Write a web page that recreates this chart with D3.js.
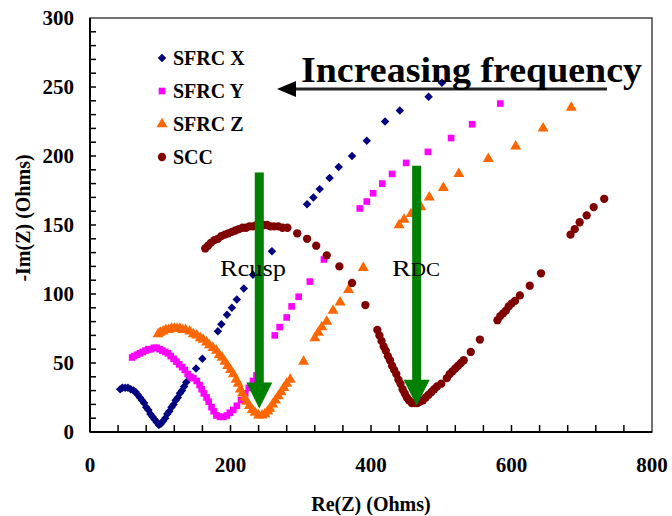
<!DOCTYPE html>
<html>
<head>
<meta charset="utf-8">
<script src="https://cdn.jsdelivr.net/npm/d3@7"></script>
<style>
  body { margin: 0; background: #fff; }
  text { font-family: "Liberation Serif", "Times New Roman", serif; }
</style>
</head>
<body>
<script>
const width = 672;
const height = 516;

const margin = { top: 18, left: 90, right: 20, bottom: 84 };
const w = width - margin.left - margin.right;
const h = height - margin.top - margin.bottom;

// data: [Re(Z), -Im(Z)]
const sfrcX = [
  [43,31],[46,32],[50,32],[54,32],[58,31],[62,30],[65,29],[68,27],[71,25],[74,23],
  [77,21],[80,18],[83,16],[86,13],[89,11],[92,9],[95,7],[98,5],[101,6],[104,8],
  [107,10],[110,13],[113,15],[116,18],[119,20],[122,23],[125,25],[128,28],[131,30],
  [134,33],[137,36],[142,40],[151,46],[160,53],[182,73],[187,78],[195,85],[202,90],
  [209,96],[219,104],[232,114],[259,131],[309,165],[318,170],[327,176],[341,184],
  [354,192],[373,200],[394,211],[420,225],[441,233],[482,243],[501,253]
];
const sfrcY = [
  [60,54],[63,55],[67,56],[71,57],[75,58],[79,59],[83,60],[87,60],[91,61],[95,61],
  [99,60],[103,59],[107,58],[111,57],[115,55],[119,53],[123,51],[127,49],[131,47],
  [135,45],[139,42],[143,40],[147,39],[152,37],[156,34],[159,31],[162,28],[166,25],
  [169,22],[173,18],[176,15],[180,12],[185,11],[190,11],[195,12],[199,14],[204,16],
  [209,19],[215,23],[221,28],[226,32],[232,37],[237,41],[241,45],[263,70],[270,76],
  [280,83],[287,91],[297,98],[313,109],[333,125],[384,162],[394,167],[403,173],
  [416,180],[430,187],[450,195],[481,203],[514,213],[544,223],[584,238]
];
const sfrcZ = [
  [97,71],[100,72],[104,73],[108,74],[112,74],[116,75],[120,75],[124,75],[128,75],
  [132,74],[136,74],[142,73],[147,71],[152,70],[157,68],[161,67],[166,65],[170,63],
  [175,61],[180,59],[184,56],[188,54],[192,51],[196,48],[200,45],[204,42],[208,38],
  [211,35],[214,31],[217,28],[220,25],[223,22],[227,19],[231,16],[235,14],[240,12],
  [245,12],[249,13],[253,15],[256,17],[260,20],[264,23],[268,26],[272,29],[276,32],
  [280,35],[285,38],[304,51],[320,68],[325,72],[330,76],[337,80],[346,88],[356,94],
  [368,103],[389,119],[440,150],[447,154],[457,158],[471,163],[483,170],[503,177],
  [525,187],[567,198],[606,207],[645,220],[685,235]
];
const scc = [
  [164,133],[168,135],[172,137],[177,139],[182,140],[187,142],[192,143],[197,144],
  [202,145],[207,146],[212,147],[217,148],[222,148],[227,149],[232,149],[237,150],
  [242,150],[247,150],[252,150],[257,149],[262,149],[268,149],[274,148],[281,148],
  [295,144],[309,140],[322,135],[337,128],[355,120],[373,108],[392,92],[409,74],
  [412,70],[415,66],[418,62],[421,59],[424,55],[427,52],[430,48],[433,45],[436,42],
  [439,38],[442,35],[445,31],[448,28],[451,25],[454,23],[458,21],[462,21],[466,21],
  [470,22],[474,23],[478,25],[482,27],[486,29],[490,31],[494,33],[500,35],[508,39],
  [512,42],[516,44],[520,46],[524,48],[528,50],[532,52],[542,58],[555,67],[580,81],
  [584,84],[588,86],[592,88],[596,91],[600,93],[605,95],[612,99],[626,106],[642,115],
  [684,143],[690,147],[697,152],[707,157],[717,163],[732,169]
];

const seriesNames = ["SFRC X", "SFRC Y", "SFRC Z", "SCC"];
const xTickLabels = [0, 200, 400, 600, 800];
const yTickLabels = [0, 50, 100, 150, 200, 250, 300];
// green arrows: Re(Z) position, top and tip in -Im(Z)
const arrows = [
  { x: 241, top: 188, tip: 17 },
  { x: 465, top: 193, tip: 19 }
];

const series = [
  { name: seriesNames[0], data: sfrcX, color: "#000080", shape: "diamond" },
  { name: seriesNames[1], data: sfrcY, color: "#FF00FF", shape: "square" },
  { name: seriesNames[2], data: sfrcZ, color: "#FF6600", shape: "triangle" },
  { name: seriesNames[3], data: scc, color: "#800000", shape: "circle" }
];

const svg = d3.select("body").append("svg")
  .attr("width", width)
  .attr("height", height);

const g = svg.append("g")
  .attr("transform", `translate(${margin.left}, ${margin.top})`);

const x = d3.scaleLinear().domain([0, 800]).range([0, w]);
const y = d3.scaleLinear().domain([0, 300]).range([h, 0]);

// frame
g.append("rect")
  .attr("width", w).attr("height", h)
  .attr("fill", "none")
  .attr("stroke", "#444").attr("stroke-width", 1.5);

// minor ticks pointing into the plot
g.append("g").selectAll("line")
  .data(d3.range(10, 300, 10))
  .enter().append("line")
  .attr("x1", 0).attr("x2", 6)
  .attr("y1", (d) => y(d)).attr("y2", (d) => y(d))
  .attr("stroke", "#000").attr("stroke-width", 1.5);

g.append("g").selectAll("line")
  .data(d3.range(40, 800, 40))
  .enter().append("line")
  .attr("x1", (d) => x(d)).attr("x2", (d) => x(d))
  .attr("y1", h).attr("y2", h - 7)
  .attr("stroke", "#000").attr("stroke-width", 1.5);

g.append("line").attr("x1", 0).attr("x2", 0).attr("y1", 0).attr("y2", h)
  .attr("stroke", "#000").attr("stroke-width", 2);
g.append("line").attr("x1", 0).attr("x2", w).attr("y1", h).attr("y2", h)
  .attr("stroke", "#000").attr("stroke-width", 2);

// tick labels
g.append("g").selectAll("text")
  .data(yTickLabels)
  .enter().append("text")
  .attr("x", -16).attr("y", (d) => y(d) + 7)
  .attr("text-anchor", "end")
  .style("font-size", "21px").style("font-weight", "bold")
  .text((d) => d);

g.append("g").selectAll("text")
  .data(xTickLabels)
  .enter().append("text")
  .attr("x", (d) => x(d)).attr("y", h + 40)
  .attr("text-anchor", "middle")
  .style("font-size", "21px").style("font-weight", "bold")
  .text((d) => d);

// axis titles
svg.append("text")
  .attr("x", 371).attr("y", 511)
  .attr("text-anchor", "middle")
  .style("font-size", "20px").style("font-weight", "bold")
  .text("Re(Z) (Ohms)");

svg.append("text")
  .attr("transform", "translate(30, 218) rotate(-90)")
  .attr("text-anchor", "middle")
  .style("font-size", "20px").style("font-weight", "bold")
  .text("-Im(Z) (Ohms)");

const symbolFor = {
  diamond: d3.symbol().type(d3.symbolSquare).size(36),
  square: d3.symbol().type(d3.symbolSquare).size(44),
  triangle: d3.symbol().type(d3.symbolTriangle).size(52),
  circle: d3.symbol().type(d3.symbolCircle).size(54)
};
const rot = (s) => (s === "diamond" ? " rotate(45)" : "");

// points
series.forEach((s) => {
  g.append("g").selectAll("path")
    .data(s.data)
    .enter().append("path")
    .attr("d", symbolFor[s.shape]())
    .attr("transform", (d) => `translate(${x(d[0])}, ${y(d[1])})${rot(s.shape)}`)
    .attr("fill", s.color);
});

// legend
const legend = svg.append("g").attr("transform", "translate(162, 58)");
series.forEach((s, i) => {
  const row = legend.append("g").attr("transform", `translate(0, ${i * 33})`);
  row.append("path")
    .attr("d", symbolFor[s.shape]())
    .attr("transform", `translate(0, 0)${rot(s.shape)}`)
    .attr("fill", s.color);
  row.append("text")
    .attr("x", 11).attr("y", 7)
    .style("font-size", "20px").style("font-weight", "bold")
    .text(s.name);
});

// green arrows
arrows.forEach((a) => {
  const cx = x(a.x);
  const yTop = y(a.top);
  const yTip = y(a.tip);
  g.append("path")
    .attr("d", `M${cx - 4.5},${yTop}L${cx + 4.5},${yTop}L${cx + 4.5},${yTip - 26}` +
      `L${cx + 13},${yTip - 26}L${cx},${yTip}L${cx - 13},${yTip - 26}L${cx - 4.5},${yTip - 26}Z`)
    .attr("fill", "#008000");
});

svg.append("text")
  .attr("x", 220).attr("y", 276)
  .style("font-size", "24px")
  .attr("textLength", 66)
  .attr("lengthAdjust", "spacingAndGlyphs")
  .text("Rcusp");

const rdc = svg.append("text")
  .attr("x", 392).attr("y", 276)
  .style("font-size", "24px")
  .attr("textLength", 48)
  .attr("lengthAdjust", "spacingAndGlyphs");
rdc.append("tspan").text("R");
rdc.append("tspan").style("font-size", "18px").text("DC");

// increasing frequency arrow
svg.append("line")
  .attr("x1", 292).attr("x2", 607).attr("y1", 89).attr("y2", 89)
  .attr("stroke", "#222").attr("stroke-width", 3);
svg.append("path")
  .attr("d", "M277,89L296,81L296,97Z")
  .attr("fill", "#000");

svg.append("text")
  .attr("x", 301).attr("y", 82)
  .style("font-size", "36px").style("font-weight", "bold")
  .attr("textLength", 341)
  .attr("lengthAdjust", "spacingAndGlyphs")
  .text("Increasing frequency");
</script>
</body>
</html>
